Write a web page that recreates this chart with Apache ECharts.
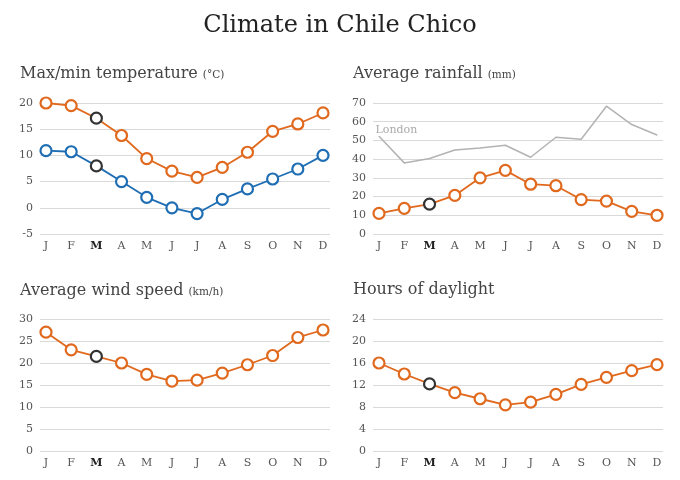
<!DOCTYPE html>
<html>
<head>
<meta charset="utf-8">
<script src="https://cdn.jsdelivr.net/npm/echarts@6/dist/echarts.min.js"></script>
<style>html,body{margin:0;padding:0;background:#fff}#c{width:680px;height:480px}</style>
</head>
<body>
<div id="c"></div>
<script>
const months = ['J','F','M','A','M','J','J','A','S','O','N','D'];
const tempMax = [20, 19.5, 17.1, 13.8, 9.4, 7, 5.8, 7.7, 10.6, 14.6, 16, 18.1];
const tempMin = [10.9, 10.7, 8, 5, 2, 0, -1.1, 1.6, 3.6, 5.5, 7.4, 10];
const rainfall = [11, 13.7, 16, 20.6, 30, 34, 26.6, 25.8, 18.4, 17.6, 12.1, 10];
const londonRain = [52.2, 38, 40.3, 44.9, 46, 47.4, 41, 51.7, 50.6, 68.3, 58.5, 52.9];
const wind = [27, 23, 21.5, 20, 17.4, 15.9, 16.1, 17.7, 19.6, 21.7, 25.8, 27.5];
const daylight = [16, 14, 12.2, 10.6, 9.5, 8.4, 8.9, 10.3, 12.1, 13.4, 14.6, 15.7];
const highlightIndex = 2;

const FONT = 'DejaVu Serif';
const ORANGE = '#e0691e';
const BLUE = '#1f6eb4';
const DARK = '#333333';

const panels = [
  {outer:{left:40,right:350,top:103,bottom:246}, inner:{left:46,right:357,top:103,bottom:246}, min:-5, max:20, interval:5},
  {outer:{left:373,right:17,top:103,bottom:246}, inner:{left:379,right:23,top:103,bottom:246}, min:0, max:70, interval:10},
  {outer:{left:40,right:350,top:319,bottom:29}, inner:{left:46,right:357,top:319,bottom:29}, min:0, max:30, interval:5},
  {outer:{left:373,right:17,top:319,bottom:29}, inner:{left:379,right:23,top:319,bottom:29}, min:0, max:24, interval:4}
];

const grids = [], xAxes = [], yAxes = [];
panels.forEach((p) => {
  grids.push(p.outer); grids.push(p.inner);
  const oi = grids.length - 2, ii = grids.length - 1;
  xAxes.push({type:'category', gridIndex:oi, data:months, show:false});
  xAxes.push({type:'category', gridIndex:ii, data:months, boundaryGap:false,
    axisLine:{show:false}, axisTick:{show:false}, splitLine:{show:false},
    axisLabel:{interval:0, margin:7, color:'#555', fontFamily:FONT, fontSize:11,
      formatter:(v, i) => i === highlightIndex ? '{b|' + v + '}' : v,
      rich:{b:{fontWeight:'bold', color:'#222', fontFamily:FONT, fontSize:11}}}});
  yAxes.push({type:'value', gridIndex:oi, min:p.min, max:p.max, interval:p.interval,
    axisLine:{show:false}, axisTick:{show:false},
    splitLine:{lineStyle:{color:'#d9d9d9', width:1}},
    axisLabel:{margin:7, color:'#555', fontFamily:FONT, fontSize:11}});
  yAxes.push({type:'value', gridIndex:ii, min:p.min, max:p.max, interval:p.interval, show:false, splitLine:{show:false}});
});

function markData(arr) {
  return arr.map((v, i) => i === highlightIndex ? {value:v, itemStyle:{borderColor:DARK}} : v);
}
function lineSeries(arr, color, axisIdx) {
  return {type:'line', xAxisIndex:axisIdx, yAxisIndex:axisIdx, data:markData(arr),
    symbol:'circle', symbolSize:11, showSymbol:true,
    lineStyle:{color:color, width:1.8},
    itemStyle:{color:'#fff', borderColor:color, borderWidth:2.2},
    emphasis:{disabled:true}, silent:true, animation:false, z:3};
}

const series = [
  {type:'line', xAxisIndex:3, yAxisIndex:3,
    data: londonRain.map((v, i) => i === 0 ? {value:v, label:{show:true, formatter:'London', position:[-3,-11], align:'left', color:'#aaa', fontFamily:FONT, fontSize:11}} : v),
    symbol:'circle', symbolSize:1, showSymbol:true,
    lineStyle:{color:'#b3b3b3', width:1.5}, itemStyle:{color:'#b3b3b3'},
    emphasis:{disabled:true}, silent:true, animation:false, z:2},
  lineSeries(tempMax, ORANGE, 1),
  lineSeries(tempMin, BLUE, 1),
  lineSeries(rainfall, ORANGE, 3),
  lineSeries(wind, ORANGE, 5),
  lineSeries(daylight, ORANGE, 7)
];

function sub(text, unit, left, top) {
  return {text: unit ? '{a|' + text + '} {b|' + unit + '}' : '{a|' + text + '}', left:left, top:top,
    textStyle:{fontWeight:'normal', rich:{a:{fontFamily:FONT, fontSize:16, fontWeight:'normal', color:'#444'}, b:{fontFamily:FONT, fontSize:10.5, fontWeight:'normal', color:'#444', padding:[2,0,0,0]}}}};
}

const option = {
  backgroundColor:'#fff',
  animation:false,
  title:[
    {text:'Climate in Chile Chico', left:'center', top:9, textStyle:{fontFamily:FONT, fontSize:24, fontWeight:'normal', color:'#222'}},
    sub('Max/min temperature', '(°C)', 15, 60),
    sub('Average rainfall', '(mm)', 348, 60),
    sub('Average wind speed', '(km/h)', 15, 277),
    sub('Hours of daylight', '', 348, 277)
  ],
  grid:grids, xAxis:xAxes, yAxis:yAxes, series:series
};
const chart = echarts.init(document.getElementById('c'));
chart.setOption(option);
</script>
</body>
</html>
